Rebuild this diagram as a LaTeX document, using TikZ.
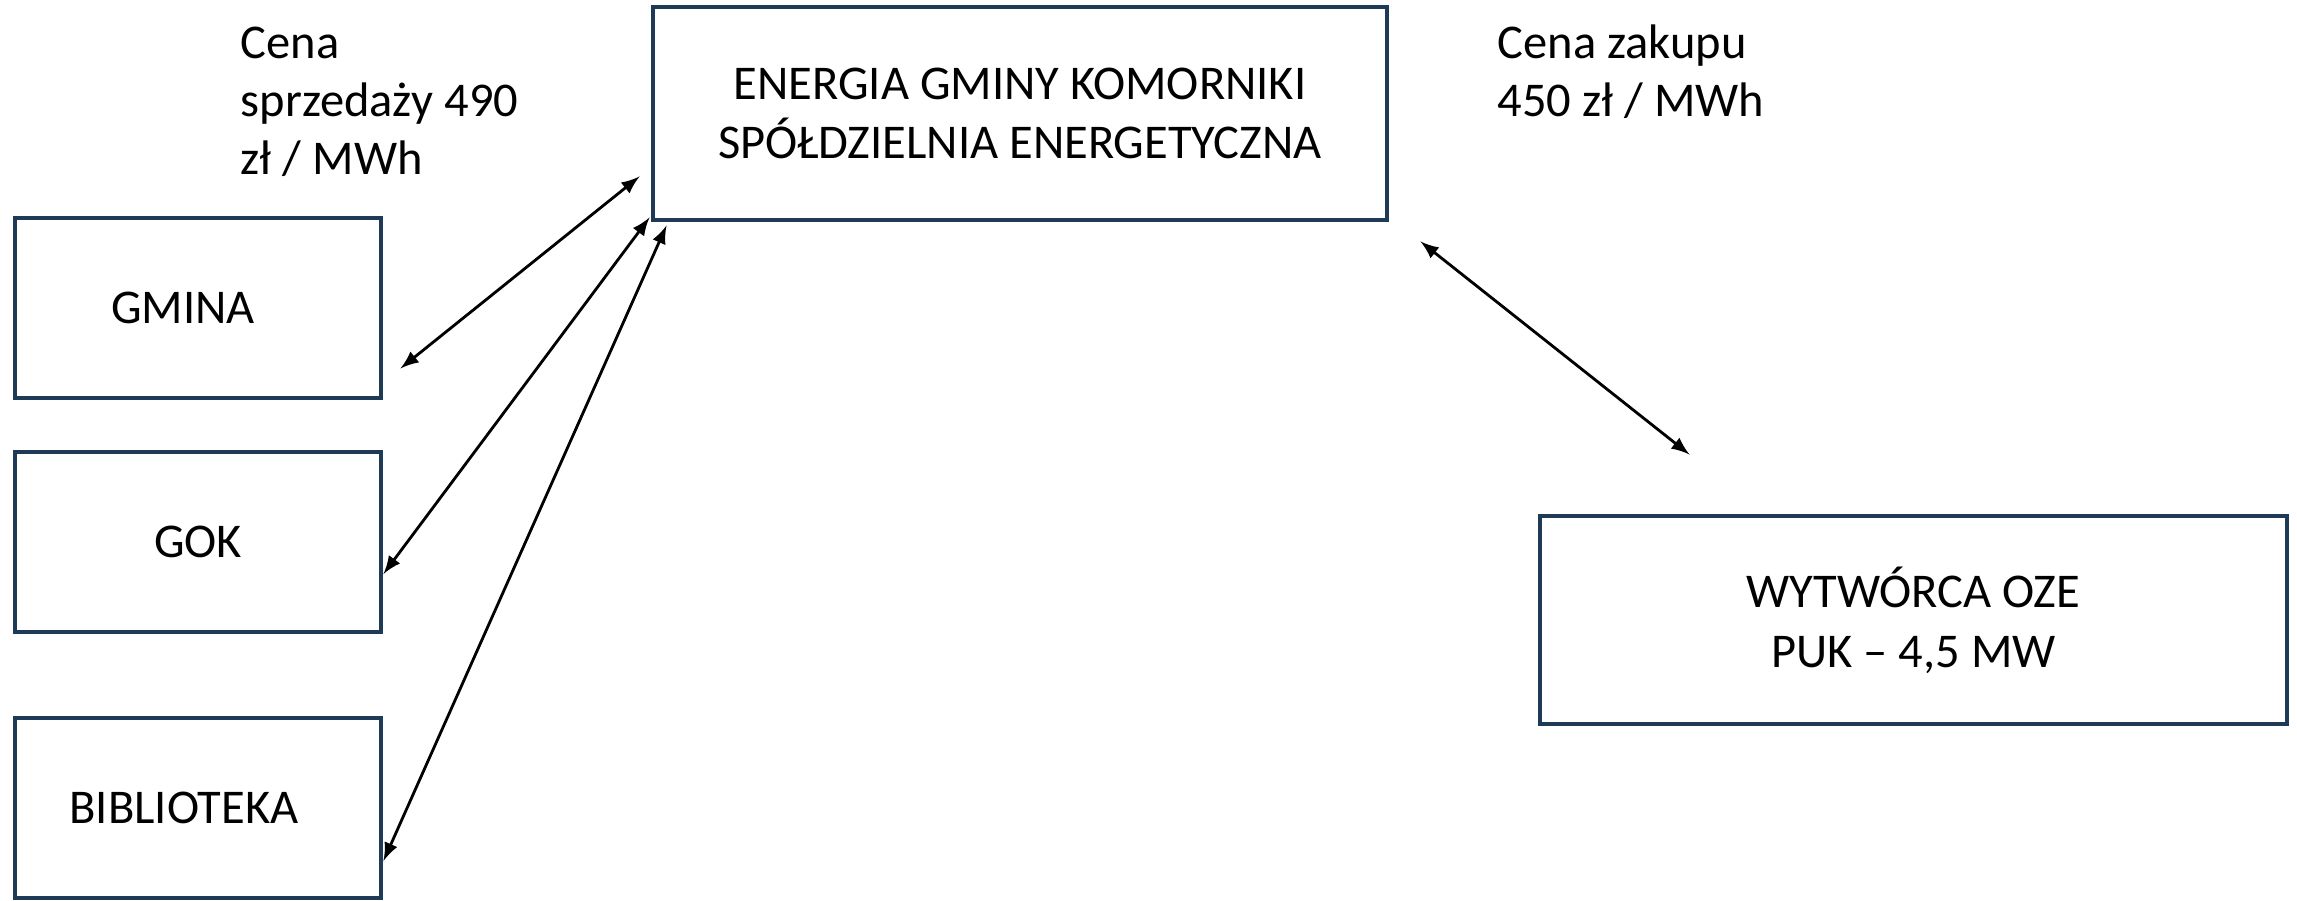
\documentclass[tikz,border=0pt]{standalone}
\usepackage{fontspec}
\setmainfont{Carlito}
\definecolor{boxblue}{HTML}{1F3A57}
\begin{document}
\begin{tikzpicture}[>=latex,
    box/.style={draw=boxblue, line width=1.4pt, minimum width=3.66cm, minimum height=1.8cm, inner sep=0pt, align=center, font=\fontsize{13.8}{17}\selectfont},
    price/.style={anchor=north west, inner sep=0pt, align=left, font=\fontsize{13.8}{16.6}\selectfont},
    link/.style={<->, line width=0.8pt}]
  \useasboundingbox (0,0) rectangle (22.97,9);
  % boxes
  \node[box, minimum width=7.34cm, minimum height=2.13cm] (spoldzielnia) at (10.20,7.865) {ENERGIA GMINY KOMORNIKI\\SPÓŁDZIELNIA ENERGETYCZNA};
  \node[box] (gmina) at (1.98,5.92) {GMINA\hspace*{0.3cm}};
  \node[box] (gok) at (1.98,3.58) {GOK};
  \node[box] (biblioteka) at (1.98,0.92) {BIBLIOTEKA\hspace*{0.28cm}};
  \node[box, minimum width=7.47cm, minimum height=2.08cm] (wytworca) at (19.135,2.80) {WYTWÓRCA OZE\\PUK – 4,5 MW};
  % prices
  \node[price] (sprzedaz) at (2.40,8.74) {Cena\\sprzedaży 490\\zł / MWh};
  \node[price] (zakup) at (14.97,8.76) {Cena zakupu\\450 zł / MWh};
  % links
  \draw[link] ([shift={(-0.11,0.46)}]spoldzielnia.south west) -- ([shift={(0.17,0.32)}]gmina.south east);
  \draw[link] ([shift={(-0.01,0.05)}]spoldzielnia.south west) -- ([yshift=-0.32cm]gok.east);
  \draw[link] ([shift={(0.16,-0.03)}]spoldzielnia.south west) -- ([yshift=-0.53cm]biblioteka.east);
  \draw[link] ([shift={(0.31,-0.19)}]spoldzielnia.south east) -- ([shift={(1.52,0.59)}]wytworca.north west);
\end{tikzpicture}
\end{document}
